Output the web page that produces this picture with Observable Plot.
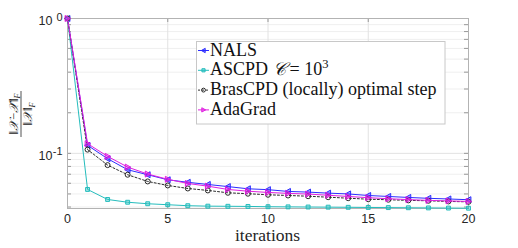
<!DOCTYPE html>
<html><head><meta charset="utf-8">
<script src="https://cdn.jsdelivr.net/npm/d3@7"></script>
<script src="https://cdn.jsdelivr.net/npm/@observablehq/plot@0.6"></script>
<style>
html,body{margin:0;padding:0;background:#fff;}
#chart{width:518px;height:248px;position:relative;}
</style></head><body><div id="chart"></div>
<script>
// ---- data ----
const iterations = [0,1,2,3,4,5,6,7,8,9,10,11,12,13,14,15,16,17,18,19,20];
const nals    = [1, 0.1147, 0.0913, 0.0756, 0.0694, 0.0637, 0.0610, 0.0588, 0.0567, 0.0546, 0.0538, 0.0522, 0.0516, 0.0507, 0.0500, 0.0487, 0.0479, 0.0471, 0.0464, 0.0459, 0.0453];
const ascpd   = [1, 0.0540, 0.0455, 0.0434, 0.0423, 0.0416, 0.0409, 0.0406, 0.0405, 0.0404, 0.0402, 0.0401, 0.0400, 0.0399, 0.0398, 0.0397, 0.0396, 0.0395, 0.0394, 0.0393, 0.0392];
const bras    = [1, 0.1066, 0.0818, 0.0694, 0.0619, 0.0578, 0.0549, 0.0531, 0.0510, 0.0502, 0.0493, 0.0487, 0.0481, 0.0473, 0.0465, 0.0457, 0.0453, 0.0448, 0.0445, 0.0440, 0.0437];
const adagrad = [1, 0.1180, 0.0950, 0.0791, 0.0702, 0.0642, 0.0598, 0.0571, 0.0540, 0.0524, 0.0513, 0.0505, 0.0499, 0.0489, 0.0479, 0.0469, 0.0461, 0.0454, 0.0448, 0.0444, 0.0440];
const seriesNames = ["NALS", "ASCPD", "BrasCPD (locally) optimal step", "AdaGrad"];
const xTicks = [0, 5, 10, 15, 20];
const yMajorTicks = [0.1, 1];
const yMinorTicks = [0.04,0.05,0.06,0.07,0.08,0.09,0.2,0.3,0.4,0.5,0.6,0.7,0.8,0.9];
const yTickBases = ["10", "10"];
const yTickExponents = ["-1", "0"];
const xLabel = "iterations";

// ---- styles ----
const colors = {nals:"#2b2bff", ascpd:"#25bdbd", bras:"#2a2a2a", adagrad:"#e01fe0"};
const W = 518, H = 248, mL = 67, mR = 50, mT = 18, mB = 40;
const pw = W - mL - mR, ph = H - mT - mB;

const triLeft = {draw(ctx, size){ const r = Math.sqrt(size/Math.PI)*1.2; ctx.moveTo(-r,0); ctx.lineTo(r*0.8,-r); ctx.lineTo(r*0.8,r); ctx.closePath(); }};
const triRight = {draw(ctx, size){ const r = Math.sqrt(size/Math.PI)*1.2; ctx.moveTo(r,0); ctx.lineTo(-r*0.8,-r); ctx.lineTo(-r*0.8,r); ctx.closePath(); }};

const rows = vals => iterations.map((it,i)=>({iteration:it, value:vals[i]}));
const dN = rows(nals), dA = rows(ascpd), dB = rows(bras), dG = rows(adagrad);
const yAll = yMinorTicks.concat(yMajorTicks);

const plot = Plot.plot({
  width: W, height: H, marginLeft: mL, marginRight: mR, marginTop: mT, marginBottom: mB,
  style: {fontFamily: "'Liberation Sans', Arial, sans-serif", fontSize: "12.5px", color: "#262626", background: "white", overflow: "visible"},
  x: {domain: [0, 20], ticks: xTicks, tickSize: 0, tickPadding: 6, label: null},
  y: {type: "log", domain: [0.039, 1], axis: null},
  marks: [
    Plot.ruleY(yMinorTicks, {y: d=>d, stroke: "#efefef", strokeWidth: 1}),
    Plot.ruleY(yMajorTicks, {y: d=>d, stroke: "#e2e2e2", strokeWidth: 1}),
    Plot.ruleX(xTicks, {x: d=>d, stroke: "#e2e2e2", strokeWidth: 1}),
    Plot.tickY(yAll, {y: d=>d, insetRight: pw - 4, stroke: "#999"}),
    Plot.tickY(yAll, {y: d=>d, insetLeft: pw - 4, stroke: "#999"}),
    Plot.tickX(xTicks, {x: d=>d, insetTop: ph - 4, stroke: "#999"}),
    Plot.tickX(xTicks, {x: d=>d, insetBottom: ph - 4, stroke: "#999"}),
    Plot.frame({stroke: "#b3b3b3"}),
    Plot.text(yMajorTicks, {y: d=>d, text: (d,i)=>yTickBases[i], frameAnchor: "left", textAnchor: "end", dx: -15, dy: 2.5, fontSize: 12.5, fill: "#262626"}),
    Plot.text(yMajorTicks, {y: d=>d, text: (d,i)=>yTickExponents[i], frameAnchor: "left", textAnchor: "end", dx: -5, dy: -1.5, fontSize: 11, fill: "#262626"}),
    // NALS
    Plot.line(dN, {x: "iteration", y: "value", stroke: colors.nals, strokeWidth: 1}),
    Plot.dot(dN, {x: "iteration", y: "value", symbol: triLeft, r: 2.5, stroke: colors.nals, fill: colors.nals, fillOpacity: 0.4, strokeWidth: 1}),
    // ASCPD
    Plot.line(dA, {x: "iteration", y: "value", stroke: colors.ascpd, strokeWidth: 1}),
    Plot.dot(dA, {x: "iteration", y: "value", symbol: "square", r: 2.2, stroke: colors.ascpd, fill: colors.ascpd, fillOpacity: 0.4, strokeWidth: 1}),
    // BrasCPD
    Plot.line(dB, {x: "iteration", y: "value", stroke: colors.bras, strokeWidth: 1, strokeDasharray: "2,2"}),
    Plot.dot(dB, {x: "iteration", y: "value", symbol: "circle", r: 2.5, stroke: colors.bras, fill: "none", strokeWidth: 1}),
    // AdaGrad
    Plot.line(dG, {x: "iteration", y: "value", stroke: colors.adagrad, strokeWidth: 1}),
    Plot.dot(dG, {x: "iteration", y: "value", symbol: triRight, r: 2.5, stroke: colors.adagrad, fill: colors.adagrad, fillOpacity: 0.4, strokeWidth: 1})
  ]
});
document.getElementById("chart").appendChild(plot);

const svg = d3.select(plot);
const serif = "'Liberation Serif', 'DejaVu Serif', serif";

// x label
svg.append("text").attr("x", mL + pw/2).attr("y", 241).attr("text-anchor", "middle")
  .attr("font-family", serif).attr("font-size", 17.5).attr("fill", "#262626").text(xLabel);

// y label (fraction, rotated)
const yl = svg.append("g").attr("transform", "translate(21,114) rotate(-90)")
  .attr("font-family", serif).attr("fill", "#262626");
const num = yl.append("text").attr("x", 0).attr("y", -3.5).attr("text-anchor", "middle").attr("font-size", 12.5);
num.append("tspan").text("‖");
num.append("tspan").attr("font-style", "italic").text("𝒳");
num.append("tspan").text("−");
num.append("tspan").attr("font-style", "italic").text("𝒳̂");
num.append("tspan").text("‖");
num.append("tspan").attr("font-style", "italic").attr("font-size", 8).attr("dy", 2.5).text("F");
yl.append("line").attr("x1", -23).attr("x2", 23).attr("y1", 0).attr("y2", 0).attr("stroke", "#262626").attr("stroke-width", 0.8);
const den = yl.append("text").attr("x", 0).attr("y", 11).attr("text-anchor", "middle").attr("font-size", 12.5);
den.append("tspan").text("‖");
den.append("tspan").attr("font-style", "italic").text("𝒳");
den.append("tspan").text("‖");
den.append("tspan").attr("font-style", "italic").attr("font-size", 8).attr("dy", 2.5).text("F");

// legend
const lg = svg.append("g").attr("text-anchor", "start");
lg.append("rect").attr("x", 196.5).attr("y", 41.5).attr("width", 248.5).attr("height", 82.5)
  .attr("fill", "white").attr("stroke", "#c8c8c8").attr("stroke-width", 1);
const legendSpec = [
  {color: colors.nals, sym: triLeft, dash: null, fill: colors.nals},
  {color: colors.ascpd, sym: d3.symbolSquare, dash: null, fill: colors.ascpd},
  {color: colors.bras, sym: d3.symbolCircle, dash: "2,2", fill: "none"},
  {color: colors.adagrad, sym: triRight, dash: null, fill: colors.adagrad}
];
legendSpec.forEach((s, i) => {
  const by = 55.5 + i * 19.8, cy = by - 5;
  lg.append("line").attr("x1", 198).attr("x2", 209).attr("y1", cy).attr("y2", cy)
    .attr("stroke", s.color).attr("stroke-width", 1).attr("stroke-dasharray", s.dash);
  lg.append("path").attr("d", d3.symbol(s.sym, i === 2 ? 12 : 10)()).attr("transform", `translate(203.5,${cy})`)
    .attr("stroke", s.color).attr("fill", s.fill).attr("fill-opacity", 0.5);
  const t = lg.append("text").attr("x", 210).attr("y", by).attr("text-anchor", "start")
    .attr("font-family", serif).attr("font-size", 18).attr("fill", "#111");
  if (i === 1) {
    t.append("tspan").text(seriesNames[1] + " ");
    t.append("tspan").attr("font-style", "italic").text("𝒞");
    t.append("tspan").attr("dx", 4).text("= 10");
    t.append("tspan").attr("font-size", 12.5).attr("dy", -7).text("3");
  } else {
    t.text(seriesNames[i]);
  }
});
</script></body></html>
